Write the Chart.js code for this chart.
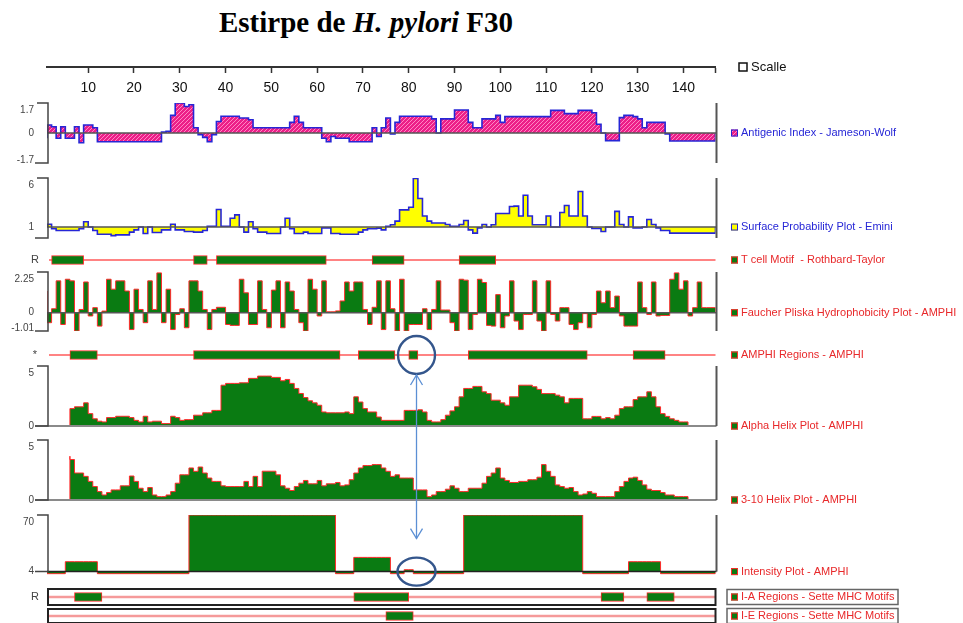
<!DOCTYPE html>
<html>
<head>
<meta charset="utf-8">
<script src="https://cdn.jsdelivr.net/npm/chart.js@4.4.1/dist/chart.umd.min.js"></script>
<style>
  html, body { margin: 0; padding: 0; background: #fff; }
  #wrap { position: relative; width: 963px; height: 623px; overflow: hidden; background: #fff; }
  #wrap canvas { position: absolute; left: 0; top: 0; }
  #title { position: absolute; left: 0; top: 5px; width: 732px; text-align: center;
           font: bold 29px "Liberation Serif", "Times New Roman", serif; line-height: 34px; color: #000; }
</style>
</head>
<body>
<div id="wrap"><div id="title">Estirpe de <i>H. pylori</i> F30</div></div>
<script>
// ---- residue axis ----
const residueCount = 146;
const axisTicks = [10, 20, 30, 40, 50, 60, 70, 80, 90, 100, 110, 120, 130, 140];

// ---- per-residue profiles ----
const antigenic = [
  -0.3, 0.45, 0.35, -0.3, 0.35, -0.3, -0.3, 0.35, -0.55, 0.45,
  0.45, 0.3, -0.5, -0.5, -0.5, -0.5, -0.5, -0.5, -0.5, -0.5,
  -0.5, -0.5, -0.5, -0.5, -0.5, -0.5, 0.05, 0.1, 1.0, 1.7,
  1.7, 1.5, 1.6, 0.3, -0.1, -0.25, -0.5, -0.1, 0.65, 0.95,
  0.95, 0.95, 0.95, 0.85, 0.85, 0.75, 0.3, 0.3, 0.3, 0.3,
  0.3, 0.3, 0.3, 0.3, 0.6, 0.95, 0.6, 0.3, 0.3, 0.3,
  0.3, -0.3, -0.5, -0.2, -0.3, -0.3, -0.3, -0.5, -0.5, -0.5,
  -0.5, -0.5, 0.3, -0.2, 0.3, 0.85, -0.05, 0.6, 0.95, 0.95,
  0.95, 0.95, 0.95, 0.95, 0.95, 0.8, 0.0, 0.8, 0.8, 0.8,
  1.3, 1.3, 1.3, 0.6, 0.3, 0.3, 0.8, 0.8, 0.8, 1.0,
  0.6, 0.93, 0.93, 0.93, 0.93, 0.93, 0.93, 0.93, 0.93, 0.93,
  0.93, 1.28, 1.28, 1.28, 1.1, 1.1, 1.1, 1.28, 1.28, 1.28,
  1.15, 0.5, 0.0, -0.43, -0.43, -0.43, 0.87, 1.0, 1.0, 0.93,
  0.8, 0.3, 0.6, 0.6, 0.6, 0.6, -0.05, -0.45, -0.45, -0.45,
  -0.45, -0.45, -0.45, -0.45, -0.45, -0.45
];

const surface = [
  1.0, 1.11, 0.94, 0.88, 0.88, 0.88, 0.88, 0.88, 0.94, 1.21,
  1.0, 0.88, 0.77, 0.77, 0.77, 0.73, 0.75, 0.75, 0.75, 0.83,
  0.9, 1.0, 0.79, 1.0, 0.82, 0.82, 0.9, 0.9, 1.11, 0.9,
  0.9, 0.85, 0.85, 0.83, 0.83, 0.88, 1.03, 1.03, 1.9, 1.03,
  1.03, 1.38, 1.56, 1.0, 0.83, 1.21, 0.94, 0.83, 0.83, 0.79,
  0.79, 0.79, 1.0, 1.38, 0.94, 0.79, 0.79, 0.83, 0.79, 0.79,
  0.79, 0.97, 0.97, 0.79, 0.79, 0.77, 0.77, 0.77, 0.77, 0.83,
  0.9, 0.94, 0.94, 0.96, 0.9, 1.03, 1.09, 1.24, 1.87, 1.87,
  2.06, 5.9, 2.84, 1.5, 1.24, 1.16, 1.16, 1.16, 1.1, 1.03,
  1.03, 1.1, 1.27, 0.9, 0.8, 0.97, 1.1, 1.0, 1.09, 1.64,
  1.64, 1.64, 2.12, 2.15, 1.5, 3.2, 1.5, 1.09, 1.09, 1.09,
  1.5, 1.0, 1.0, 1.7, 2.2, 1.5, 1.5, 3.66, 1.5, 1.0,
  0.95, 0.95, 0.85, 1.0, 1.0, 1.77, 1.1, 1.0, 1.45, 0.97,
  0.97, 1.0, 1.32, 1.1, 0.97, 0.88, 0.88, 0.8, 0.8, 0.8,
  0.8, 0.8, 0.8, 0.8, 0.8, 0.8
];

const hydrophobicity = [
  1.2, -0.55, 0.22, 1.76, -0.65, 1.85, 1.76, -1.01, 0.18, 1.7,
  -0.18, 0.28, -0.74, 0.09, 1.85, 1.3, 1.76, 1.76, 1.2, -0.93,
  1.3, 0.18, -0.55, 1.76, 0.18, 2.2, -0.55, 1.3, -0.93, -0.1,
  0.22, -0.83, 1.76, 1.76, 1.2, 0.18, -0.93, 0.18, 0.3, 0.3,
  -0.65, -0.7, -0.7, 1.85, 1.1, -0.65, -0.65, 1.76, 0.18, -0.83,
  1.25, 1.76, -0.83, 1.7, 1.2, 0.18, -0.55, -1.01, 1.85, 1.3,
  -0.18, 1.76, 0.05, 0.05, 0.1, 0.65, 1.7, 1.2, 1.7, 1.7,
  0.18, -0.65, 0.3, 1.76, -0.93, 1.76, 0.22, -1.01, 1.85, -1.01,
  -0.65, -0.65, -0.65, 0.22, -0.93, 0.18, 1.76, 0.15, 0.15, -0.55,
  -1.01, 1.85, 1.8, -0.93, -0.1, 1.85, 1.67, -0.7, -0.74, 1.0,
  -0.83, -0.18, 1.76, -0.46, -0.93, -0.1, -0.1, 1.76, -0.46, -1.01,
  1.76, -0.1, -0.46, 0.28, 0.28, -0.65, -0.93, -0.55, -0.05, -0.83,
  -0.1, 1.2, 0.55, 1.2, 0.28, 0.92, -0.18, -0.74, -0.74, -0.74,
  1.7, 0.28, -0.1, 1.7, -0.18, -0.15, -0.15, 1.85, 2.2, 1.3,
  1.76, -0.18, 0.28, 1.7, 0.28, 0.28
];

const alphaHelix = [
  null, null, null, null, null, 1.45, 1.45, 1.6, 1.6, 1.93,
  1.03, 0.6, 0.4, 0.34, 0.7, 0.7, 0.81, 0.81, 0.81, 0.7,
  0.47, 0.34, 0.81, 0.34, 0.4, 0.4, 0.2, 0.2, 0.81, 0.7,
  0.47, 0.53, 0.53, 0.9, 0.9, 1.1, 1.1, 1.3, 1.3, 3.4,
  3.55, 3.55, 3.55, 3.6, 3.6, 3.97, 3.97, 4.16, 4.16, 4.16,
  4.05, 4.05, 3.77, 3.88, 3.55, 3.13, 2.71, 2.37, 2.1, 1.93,
  1.73, 1.17, 1.1, 1.1, 1.1, 1.1, 1.17, 1.03, 2.43, 2.0,
  1.45, 1.17, 1.17, 0.75, 0.47, 0.47, 0.47, 0.47, 0.47, 1.3,
  1.3, 1.3, 1.35, 1.17, 0.47, 0.34, 0.34, 0.53, 0.9, 1.26,
  1.6, 2.43, 3.13, 3.13, 3.3, 3.3, 2.85, 2.7, 2.15, 2.15,
  1.93, 1.73, 2.43, 2.43, 3.4, 3.4, 3.4, 3.27, 3.05, 2.7,
  2.7, 2.7, 2.57, 2.43, 1.93, 2.3, 2.3, 2.3, 0.6, 0.6,
  0.8, 0.8, 0.6, 0.7, 0.6, 0.9, 1.45, 1.6, 1.6, 2.2,
  2.43, 2.43, 2.85, 2.43, 1.6, 1.03, 0.8, 0.6, 0.47, 0.34,
  null, null, null, null, null, null
];

const helix310 = [
  null, null, null, null, null, 3.65, 3.37, 2.25, 2.25, 1.97,
  1.55, 1.12, 0.7, 0.42, 0.62, 0.84, 0.84, 1.18, 1.18, 2.0,
  1.55, 0.98, 0.7, 1.04, 0.42, 0.28, 0.28, 0.42, 0.7, 1.4,
  2.1, 2.1, 2.67, 2.39, 2.75, 2.25, 1.83, 1.55, 1.55, 1.18,
  1.12, 1.12, 1.12, 1.12, 1.55, 1.12, 1.97, 1.12, 2.4, 2.4,
  2.4, 2.1, 1.18, 0.98, 0.79, 1.12, 1.4, 1.63, 1.35, 1.35,
  1.63, 1.18, 1.35, 1.35, 1.46, 1.18, 1.26, 1.69, 2.25, 2.67,
  2.87, 2.87, 2.95, 2.95, 2.67, 2.39, 1.97, 2.1, 1.83, 1.83,
  1.83, 0.84, 0.84, 0.84, 0.28, 0.42, 0.7, 0.7, 0.9, 1.18,
  0.98, 0.7, 0.7, 0.98, 0.98, 0.98, 1.4, 1.97, 2.25, 2.67,
  1.83, 1.63, 1.46, 1.46, 1.55, 1.55, 1.69, 1.69, 1.9, 2.95,
  2.39, 1.97, 1.26, 1.12, 0.98, 1.04, 0.7, 0.42, 0.5, 0.7,
  0.56, 0.28, 0.28, 0.28, 0.28, 0.7, 1.12, 1.55, 1.83, 1.9,
  1.63, 1.26, 0.9, 0.79, 0.79, 0.62, 0.42, 0.42, 0.28, 0.28,
  null, null, null, null, null, null
];

const intensity = [
  3.6, 3.6, 3.6, 3.6, 3.6, 6.6, 6.6, 6.6, 6.6, 6.6,
  6.6, 6.6, 3.6, 3.6, 3.6, 3.6, 3.6, 3.6, 3.6, 3.6,
  3.6, 3.6, 3.6, 3.6, 3.6, 3.6, 3.6, 3.6, 3.6, 3.6,
  3.6, 3.6, 70, 70, 70, 70, 70, 70, 70, 70,
  70, 70, 70, 70, 70, 70, 70, 70, 70, 70,
  70, 70, 70, 70, 70, 70, 70, 70, 70, 70,
  70, 70, 70, 70, 3.6, 3.6, 3.6, 3.6, 8.2, 8.2,
  8.2, 8.2, 8.2, 8.2, 8.2, 8.2, 3.6, 3.6, 3.6, 4.4,
  4.4, 3.6, 3.6, 3.6, 3.6, 3.6, 3.6, 3.6, 3.6, 3.6,
  3.6, 3.6, 70, 70, 70, 70, 70, 70, 70, 70,
  70, 70, 70, 70, 70, 70, 70, 70, 70, 70,
  70, 70, 70, 70, 70, 70, 70, 70, 3.6, 3.6,
  3.6, 3.6, 3.6, 3.6, 3.6, 3.6, 3.6, 3.6, 6.6, 6.6,
  6.6, 6.6, 6.6, 6.6, 6.6, 3.6, 3.6, 3.6, 3.6, 3.6,
  3.6, 3.6, 3.6, 3.6, 3.6, 3.6
];

// ---- predicted regions: [start, end) in residue positions ----
const tcellMotifs  = [[2, 9], [33, 36], [38, 62], [72, 79], [91, 99]];
const amphiRegions = [[6, 12], [33, 65], [69, 77], [80, 82], [93, 119], [129, 136]];
const iaRegions    = [[7, 13], [68, 80], [122, 127], [132, 138]];
const ieRegions    = [[75, 81]];
const highlighted  = 81.7;   // residue ringed in the AMPHI and intensity tracks

// ---- page geometry & styles ----
const W = 963, H = 623, X_LEFT = 47, X_RIGHT = 715.5;
const FONT = '"Liberation Sans", Arial, sans-serif';
const GREEN = '#0a7b12', RED = '#ff2a2a', BLUE = '#2626d6', LEG_RED = '#e8282a';
Chart.defaults.font.family = FONT;

const wrap = document.getElementById('wrap');
function makeCanvas() {
  const c = document.createElement('canvas');
  c.width = W; c.height = H;
  c.style.width = W + 'px'; c.style.height = H + 'px';
  wrap.appendChild(c);
  return c;
}

function hatchPattern() {
  const c = document.createElement('canvas');
  c.width = 4; c.height = 4;
  const g = c.getContext('2d');
  g.fillStyle = '#ec1f88'; g.fillRect(0, 0, 4, 4);
  g.strokeStyle = '#ff86c4'; g.lineWidth = 1;
  g.beginPath(); g.moveTo(-1, 5); g.lineTo(5, -1); g.stroke();
  return g.createPattern(c, 'repeat');
}
const HATCH = hatchPattern();

// residue values -> stepped outline points, closed down to the baseline at run ends
function stepPoints(vals, base) {
  const pts = [];
  vals.forEach((v, i) => {
    const x = i + 1;
    if (v === null) { pts.push({ x, y: null }); return; }
    if (i === 0 || vals[i - 1] === null) pts.push({ x, y: base });
    pts.push({ x, y: v });
    if (i === vals.length - 1 || vals[i + 1] === null) {
      pts.push({ x: x + 1, y: v });
      pts.push({ x: x + 1, y: base });
    }
  });
  return pts;
}

// brackets, baselines, axis labels and right-hand legend of each track
const frame = {
  id: 'frame',
  beforeDatasetsDraw(chart, args, o) {
    if (!o.track) return;
    const { ctx, chartArea: a, scales: { y } } = chart;
    const yb = y.getPixelForValue(0);
    ctx.save();
    ctx.strokeStyle = o.track.color; ctx.lineWidth = o.track.width;
    ctx.beginPath(); ctx.moveTo(a.left + 2, yb); ctx.lineTo(a.right, yb); ctx.stroke();
    ctx.restore();
  },
  afterDatasetsDraw(chart, args, o) {
    const { ctx, chartArea: a, scales: { y } } = chart;
    const yb = y.getPixelForValue(o.base);
    const seg = (x1, y1, x2, y2) => { ctx.beginPath(); ctx.moveTo(x1, y1); ctx.lineTo(x2, y2); ctx.stroke(); };
    ctx.save();
    if (o.baseLine) {
      ctx.strokeStyle = o.baseLine.color; ctx.lineWidth = o.baseLine.width;
      seg(o.baseLine.from || a.left, yb, a.right + 1, yb);
    }
    if (o.bracket) {
      const yBot = o.bracket === 'base' ? yb : a.bottom;
      ctx.strokeStyle = '#444'; ctx.lineWidth = 1.5;
      ctx.beginPath();
      ctx.moveTo(37, a.top); ctx.lineTo(a.left + 1, a.top);
      ctx.lineTo(a.left + 1, yBot); ctx.lineTo(35, yBot);
      ctx.stroke();
      ctx.strokeStyle = '#555'; ctx.lineWidth = 2;
      seg(a.right + 1, a.top, a.right + 1, yBot);
    }
    if (o.boxed) {
      ctx.strokeStyle = '#222'; ctx.lineWidth = 2;
      ctx.strokeRect(a.left + 1, a.top, a.right - a.left - 1, a.bottom - a.top);
    }
    ctx.fillStyle = '#444'; ctx.font = '10px ' + FONT; ctx.textAlign = 'right';
    (o.labels || []).forEach(([t, pos]) => {
      if (pos === 'top') { ctx.textBaseline = 'top'; ctx.fillText(t, 34, a.top + 2); }
      else if (pos === 'bottom') { ctx.textBaseline = 'alphabetic'; ctx.fillText(t, 34, a.bottom); }
      else { ctx.textBaseline = 'middle'; ctx.fillText(t, 34, yb); }
    });
    if (o.tag) {
      ctx.textAlign = 'center'; ctx.textBaseline = 'middle'; ctx.font = '11px ' + FONT;
      ctx.fillText(o.tag, 35, yb);
    }
    if (o.legend) {
      const L = o.legend, lx = 731;
      ctx.fillStyle = L.fill; ctx.fillRect(lx, yb - 3.5, 7, 7);
      ctx.strokeStyle = L.stroke; ctx.lineWidth = 1; ctx.strokeRect(lx + 0.5, yb - 3, 6, 6);
      ctx.fillStyle = L.color; ctx.font = '11px ' + FONT;
      ctx.textAlign = 'left'; ctx.textBaseline = 'middle';
      ctx.fillText(L.text, lx + 10, yb);
      if (L.boxed) {
        ctx.strokeStyle = '#666'; ctx.lineWidth = 1.5;
        ctx.strokeRect(727, yb - 7.5, 171, 15);
      }
    }
    ctx.restore();
  }
};

function baseOptions(top, bottom, yScale, frameOpts) {
  return {
    responsive: false, animation: false, devicePixelRatio: 1, events: [],
    layout: { padding: { left: X_LEFT, right: W - X_RIGHT, top: top, bottom: H - bottom } },
    plugins: { legend: { display: false }, tooltip: { enabled: false }, title: { display: false }, frame: frameOpts },
    scales: {
      x: { type: 'linear', min: 1, max: residueCount + 1, display: false },
      y: Object.assign({ display: false, offset: false }, yScale)
    }
  };
}

function stepChart(values, base, top, bottom, yScale, fillColor, lineColor, lineWidth, frameOpts, extraPlugins) {
  return new Chart(makeCanvas(), {
    type: 'line',
    data: { datasets: [{
      data: stepPoints(values, base), stepped: 'after', spanGaps: false,
      fill: { value: base }, backgroundColor: fillColor,
      borderColor: lineColor, borderWidth: lineWidth, pointRadius: 0
    }] },
    options: baseOptions(top, bottom, yScale, frameOpts),
    plugins: [frame].concat(extraPlugins || [])
  });
}

function trackChart(segs, center, half, frameOpts) {
  const opts = baseOptions(center - half, center + half, { type: 'linear', min: -1, max: 1 }, frameOpts);
  opts.indexAxis = 'y';
  return new Chart(makeCanvas(), {
    type: 'bar',
    data: { datasets: [{
      data: segs.map(s => ({ x: s, y: 0 })),
      backgroundColor: GREEN, borderColor: RED, borderWidth: 1,
      borderSkipped: false, barThickness: 9
    }] },
    options: opts,
    plugins: [frame]
  });
}

const greenLegend = (text, boxed) => ({ text, color: LEG_RED, fill: GREEN, stroke: RED, boxed: !!boxed });

// ---- residue number axis + "Scalle" key ----
new Chart(makeCanvas(), {
  type: 'line',
  data: { datasets: [] },
  options: {
    responsive: false, animation: false, devicePixelRatio: 1, events: [],
    layout: { padding: { left: X_LEFT, right: W - X_RIGHT, top: 45, bottom: H - 67 - 32 } },
    plugins: { legend: { display: false }, tooltip: { enabled: false } },
    scales: {
      x: {
        type: 'linear', position: 'bottom', min: 1, max: residueCount + 1,
        afterBuildTicks: s => { s.ticks = axisTicks.concat([residueCount + 1]).map(v => ({ value: v })); },
        afterFit: s => { s.height = 32; },
        ticks: {
          autoSkip: false, maxRotation: 0, padding: 7, color: '#111',
          font: { size: 14, family: FONT },
          callback: v => (axisTicks.includes(v) ? String(v) : '')
        },
        grid: { drawOnChartArea: false, drawTicks: true, tickLength: 6, tickColor: '#333', tickWidth: 1.5 },
        border: { display: true, color: '#333', width: 2 }
      },
      y: { display: false }
    }
  },
  plugins: [{
    id: 'scaleKey',
    afterDraw(chart) {
      const ctx = chart.ctx, yb = chart.chartArea.bottom;
      ctx.save();
      ctx.strokeStyle = '#111'; ctx.lineWidth = 1.5; ctx.fillStyle = '#fff';
      ctx.fillRect(739, yb - 4, 8, 8); ctx.strokeRect(739, yb - 4, 8, 8);
      ctx.fillStyle = '#111'; ctx.font = '13px ' + FONT;
      ctx.textAlign = 'left'; ctx.textBaseline = 'middle';
      ctx.fillText('Scalle', 751, yb);
      ctx.restore();
    }
  }]
});

// ---- Antigenic index ----
stepChart(antigenic, 0, 103, 163, { type: 'linear', min: -1.7, max: 1.7 }, HATCH, BLUE, 1.6, {
  base: 0, baseLine: { color: '#555', width: 1.5 }, bracket: 'full',
  labels: [['1.7', 'top'], ['0', 'base'], ['-1.7', 'bottom']],
  legend: { text: 'Antigenic Index - Jameson-Wolf', color: BLUE, fill: HATCH, stroke: BLUE }
});

// ---- Surface probability (log) ----
stepChart(surface, 1, 178, 238, { type: 'logarithmic', min: 0.67, max: 6 }, '#ffff00', BLUE, 1.6, {
  base: 1, baseLine: { color: '#555', width: 1.5 }, bracket: 'full',
  labels: [['6', 'top'], ['1', 'base']],
  legend: { text: 'Surface Probability Plot - Emini', color: BLUE, fill: '#ffff00', stroke: BLUE }
});

// ---- T cell motifs ----
trackChart(tcellMotifs, 260, 10, {
  base: 0, track: { color: '#ff5a5a', width: 1.5 }, tag: 'R',
  legend: greenLegend('T cell Motif  - Rothbard-Taylor')
});

// ---- Hydrophobicity ----
stepChart(hydrophobicity, 0, 272, 331, { type: 'linear', min: -1.01, max: 2.25 }, GREEN, RED, 1, {
  base: 0, baseLine: { color: '#555', width: 1.5 }, bracket: 'full',
  labels: [['2.25', 'top'], ['0', 'base'], ['-1.01', 'bottom']],
  legend: greenLegend('Faucher Pliska Hydrophobicity Plot - AMPHI')
});

// ---- AMPHI regions ----
const amphiChart = trackChart(amphiRegions, 355, 10, {
  base: 0, track: { color: '#ff5a5a', width: 1.5 }, tag: '*',
  legend: greenLegend('AMPHI Regions - AMPHI')
});

// ---- Alpha helix ----
stepChart(alphaHelix, 0, 366, 426, { type: 'linear', min: 0, max: 5 }, GREEN, RED, 1, {
  base: 0, baseLine: { color: '#8a8a8a', width: 2, from: 35 }, bracket: 'base',
  labels: [['5', 'top'], ['0', 'base']],
  legend: greenLegend('Alpha Helix Plot - AMPHI')
});

// ---- 3-10 helix ----
stepChart(helix310, 0, 440, 500, { type: 'linear', min: 0, max: 5 }, GREEN, RED, 1, {
  base: 0, baseLine: { color: '#8a8a8a', width: 2, from: 35 }, bracket: 'base',
  labels: [['5', 'top'], ['0', 'base']],
  legend: greenLegend('3-10 Helix Plot - AMPHI')
});

// ---- Intensity (log), with the ringed residue linked to the AMPHI track ----
const ringPlugin = {
  id: 'ring',
  afterDraw(chart) {
    const ctx = chart.ctx;
    const cx = chart.scales.x.getPixelForValue(highlighted);
    const y1 = amphiChart.scales.y.getPixelForValue(0);
    const y2 = chart.scales.y.getPixelForValue(4);
    ctx.save();
    ctx.strokeStyle = '#34568c'; ctx.lineWidth = 2.4;
    ctx.beginPath(); ctx.ellipse(cx, y1, 18.5, 19, 0, 0, Math.PI * 2); ctx.stroke();
    ctx.beginPath(); ctx.ellipse(cx, y2, 19, 14, 0, 0, Math.PI * 2); ctx.stroke();
    const yA = y1 + 20, yB = y2 - 33;
    ctx.strokeStyle = '#5b8fd4'; ctx.lineWidth = 1.3;
    ctx.beginPath(); ctx.moveTo(cx, yA); ctx.lineTo(cx, yB); ctx.stroke();
    ctx.beginPath(); ctx.moveTo(cx - 6, yA + 10); ctx.lineTo(cx, yA); ctx.lineTo(cx + 6, yA + 10); ctx.stroke();
    ctx.beginPath(); ctx.moveTo(cx - 6, yB - 10); ctx.lineTo(cx, yB); ctx.lineTo(cx + 6, yB - 10); ctx.stroke();
    ctx.restore();
  }
};
stepChart(intensity, 4, 515, 576, { type: 'logarithmic', min: 3.2, max: 70 }, GREEN, RED, 1, {
  base: 4, baseLine: { color: '#222', width: 1.5 }, bracket: 'base',
  labels: [['70', 'top'], ['4', 'base']],
  legend: greenLegend('Intensity Plot - AMPHI')
}, [ringPlugin]);

// ---- Sette MHC motif regions ----
trackChart(iaRegions, 597, 8, {
  base: 0, track: { color: '#f59a9a', width: 2.5 }, tag: 'R', boxed: true,
  legend: greenLegend('I-A Regions - Sette MHC Motifs', true)
});
trackChart(ieRegions, 617, 8, {
  base: 0, track: { color: '#f59a9a', width: 2.5 }, boxed: true,
  legend: greenLegend('I-E Regions - Sette MHC Motifs', true)
});
</script>
</body>
</html>
